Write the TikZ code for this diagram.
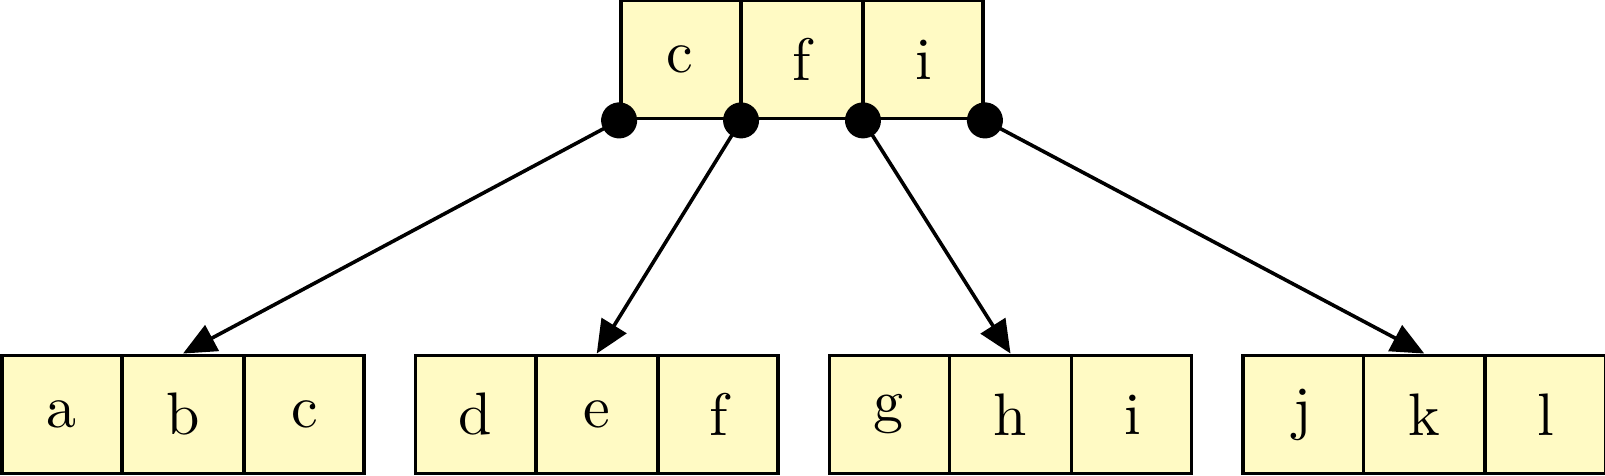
\documentclass[tikz,border=0pt]{standalone}
\usepackage{color}
\definecolor{paleyellow}{rgb}{1,0.98,0.77}
\usepackage{tikz}
\usetikzlibrary{shapes.multipart,chains,arrows.meta,positioning}
\tikzset{
	keys/.style={
		draw, semithick, rectangle split,
		rectangle split parts=3,
		rectangle split horizontal,
		text width=19.72pt, align=center,
		minimum height=19.7pt, inner sep=0pt,
		fill=paleyellow, text=black
	},
	child_arrow/.style={{Circle[length=6pt]}-{Triangle[length=5.5pt,width=4.8pt]},
		semithick, shorten <=-3pt}
}

\begin{document}
\begin{tikzpicture}[start chain=going right, node distance=8pt]
				\useasboundingbox (0,0) rectangle (267.5pt,-79.33pt);
				\node[keys] (root) at (133.67pt,-9.92pt) {c \nodepart{two} f \nodepart{three} i};
				\node[keys,on chain] (L1) at (30.5pt,-69.08pt) {a \nodepart{two} b \nodepart{three} c};
				\node[keys,on chain] (L2) {d \nodepart{two} e \nodepart{three} f};
				\node[keys,on chain] (L3) {g \nodepart{two} h \nodepart{three} i};
				\node[keys,on chain] (L4) {j \nodepart{two} k \nodepart{three} l};
				\draw[child_arrow] (root.south west) -- (L1.two north);
				\draw[child_arrow] (root.one split south) -- (L2.two north);
				\draw[child_arrow] (root.two split south) -- (L3.two north);
				\draw[child_arrow] (root.south east) -- (L4.two north);
			\end{tikzpicture}
\end{document}
